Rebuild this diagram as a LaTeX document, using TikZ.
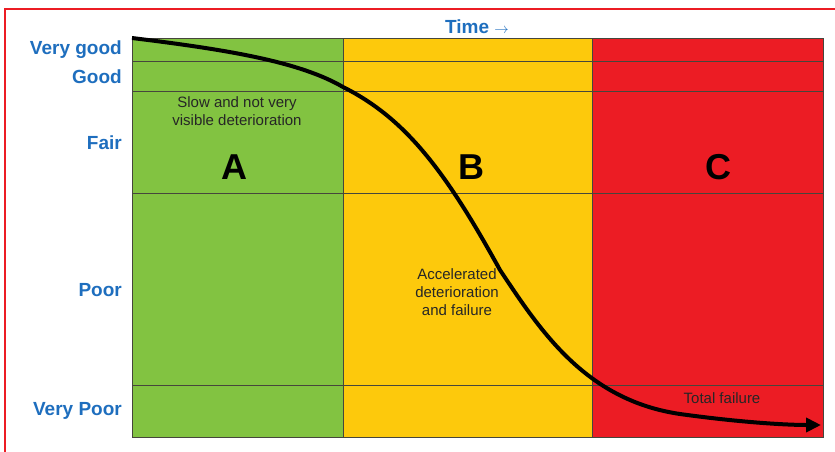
\documentclass[tikz,border=0pt]{standalone}
\usepackage{fontspec}
\setmainfont{Liberation Sans}
\usetikzlibrary{arrows.meta}
\definecolor{zgreen}{RGB}{130,195,65}
\definecolor{zyellow}{RGB}{253,201,12}
\definecolor{zred}{RGB}{236,28,36}
\definecolor{lblue}{RGB}{30,110,190}
\definecolor{gridc}{RGB}{70,70,60}
\begin{document}
\begin{tikzpicture}[x=1pt,y=-1pt,
  lvl/.style={anchor=east,text=lblue,font=\bfseries\fontsize{19}{19}\selectfont,inner sep=0pt},
  zone/.style={font=\bfseries\fontsize{36}{36}\selectfont,inner sep=0pt},
  note/.style={font=\fontsize{15}{18}\selectfont,align=center,inner sep=0pt,text=black!85},
  gridline/.style={draw=gridc,line width=0.7pt}]
\useasboundingbox (0,0) rectangle (835,451);
\begin{scope}
\clip (0,0) rectangle (835,451);
\draw[zred,line width=2pt] (4.5,9) rectangle (845,470);
\end{scope}
% zones
\fill[zgreen] (132,38) rectangle (343,437);
\fill[zyellow] (343,38) rectangle (592,437);
\fill[zred] (592,38) rectangle (823,437);
% grid
\draw[gridline] (132,38) rectangle (823,437);
\draw[gridline] (343,38) -- (343,437);
\draw[gridline] (592,38) -- (592,437);
\foreach \yy in {61,91,193,385} \draw[gridline] (132,\yy) -- (823,\yy);
% level labels
\node[lvl] (vg) at (122,50) {Very good};
\node[lvl] (gd) at (122,77) {Good};
\node[lvl] (fr) at (122,143) {Fair};
\node[lvl] (pr) at (122,290) {Poor};
\node[lvl] (vp) at (122,411) {Very Poor};
\node[text=lblue,font=\bfseries\fontsize{19}{19}\selectfont,inner sep=0pt] (time) at (477,27) {Time \fontsize{14}{14}\selectfont$\rightarrow$};
% zone letters
\node[zone] (za) at (234,167) {A};
\node[zone] (zb) at (471,167) {B};
\node[zone] (zc) at (718,167) {C};
% notes
\node[note] (n1) at (237,111) {Slow and not very\\visible deterioration};
\node[note] (n2) at (457,292) {Accelerated\\deterioration\\and failure};
\node[note] (n3) at (722,398) {Total failure};
% curve
\draw[line width=4pt,-{Triangle[length=15pt,width=14pt]}]
  (132,38) .. controls (230,50) and (300,62) .. (343,87)
  .. controls (405,118) and (445,170) .. (500,270)
  .. controls (540,330) and (585,400) .. (680,414)
  .. controls (745,423) and (790,425) .. (821,425);
\end{tikzpicture}
\end{document}
